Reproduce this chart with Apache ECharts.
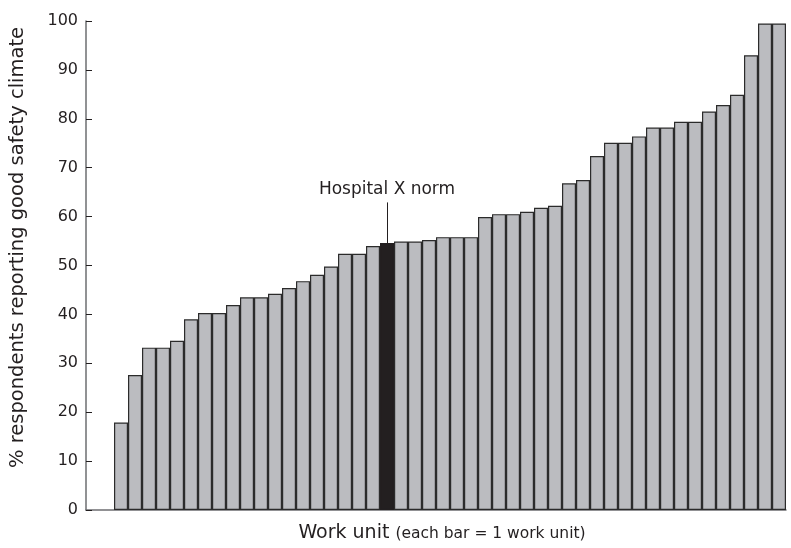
<!DOCTYPE html>
<html>
<head>
<meta charset="utf-8">
<script src="https://cdn.jsdelivr.net/npm/echarts@6/dist/echarts.min.js"></script>
<style>
  html, body { margin: 0; padding: 0; background: #ffffff; }
  #chart { width: 791px; height: 548px; }
</style>
</head>
<body>
<div id="chart"></div>
<script>
// Two empty leading slots reproduce the gap between the y axis and the first bar
var categories = ['', '',
  'U1','U2','U3','U4','U5','U6','U7','U8','U9','U10',
  'U11','U12','U13','U14','U15','U16','U17','U18','U19','U20',
  'U21','U22','U23','U24','U25','U26','U27','U28','U29','U30',
  'U31','U32','U33','U34','U35','U36','U37','U38','U39','U40',
  'U41','U42','U43','U44','U45','U46','U47','U48'];

var values = [17.9, 27.6, 33.2, 33.2, 34.6, 39.0, 40.3, 40.3, 41.9, 43.5,
              43.5, 44.2, 45.4, 46.8, 48.1, 49.8, 52.4, 52.4, 54.0, 54.6,
              54.9, 54.9, 55.2, 55.8, 55.8, 55.8, 59.9, 60.5, 60.5, 61.0,
              61.8, 62.2, 66.8, 67.5, 72.4, 75.1, 75.1, 76.4, 78.2, 78.2,
              79.4, 79.4, 81.5, 82.8, 84.9, 93.0, 99.5, 99.5];

var hospitalIndex = 19;          // index in values of the "Hospital X norm" bar
var hospitalLabel = 'Hospital X norm';
var leaderTop = 62.9;            // value where the annotation leader line ends

var yTicks = [0, 10, 20, 30, 40, 50, 60, 70, 80, 90, 100];

var FONT = '"DejaVu Sans", "Open Sans", sans-serif';
var TEXT = '#231f20';

var seriesData = ['-', '-'].concat(values.map(function (v, i) {
  if (i === hospitalIndex) {
    return { value: v, itemStyle: { color: '#231f20', borderColor: '#231f20' } };
  }
  return v;
}));

var hospCat = categories[2 + hospitalIndex];

var chart = echarts.init(document.getElementById('chart'), null, { renderer: 'canvas' });
chart.setOption({
  animation: false,
  backgroundColor: '#ffffff',
  grid: { left: 77, right: 5, top: 21, bottom: 31, containLabel: false },
  xAxis: {
    type: 'category',
    data: categories,
    boundaryGap: true,
    axisLine: { lineStyle: { color: '#6d6e71', width: 1.5 } },
    axisTick: { show: false },
    axisLabel: { show: false },
    splitLine: { show: false },
    name: '{a|Work unit }{b|(each bar = 1 work unit)}',
    nameLocation: 'middle',
    nameGap: 14,
    nameTextStyle: {
      padding: [0, 0, 0, 12],
      rich: {
        a: { fontFamily: FONT, fontSize: 19, color: TEXT },
        b: { fontFamily: FONT, fontSize: 15.5, color: TEXT }
      }
    }
  },
  yAxis: {
    type: 'value',
    min: yTicks[0],
    max: yTicks[yTicks.length - 1],
    interval: 10,
    axisLine: { show: true, lineStyle: { color: '#6d6e71', width: 1.5 } },
    axisTick: { show: true, inside: true, length: 6, lineStyle: { color: '#231f20' } },
    axisLabel: { fontFamily: FONT, fontSize: 16, color: TEXT, margin: 8 },
    splitLine: { show: false },
    name: '% respondents reporting good safety climate',
    nameLocation: 'middle',
    nameGap: 58,
    nameTextStyle: { fontFamily: FONT, fontSize: 19.5, color: TEXT, padding: [0, 0, 0, 36] }
  },
  series: [{
    type: 'bar',
    data: seriesData,
    barCategoryGap: '0%',
    itemStyle: { color: '#bbbcc0', borderColor: '#2b2b2b', borderWidth: 1.2 },
    markLine: {
      silent: true,
      symbol: ['none', 'none'],
      lineStyle: { color: '#231f20', width: 1, type: 'solid' },
      label: {
        show: true,
        position: 'end',
        distance: 4,
        formatter: hospitalLabel,
        fontFamily: FONT,
        fontSize: 17,
        color: TEXT
      },
      data: [[
        { coord: [hospCat, values[hospitalIndex]] },
        { coord: [hospCat, leaderTop] }
      ]]
    }
  }]
});
</script>
</body>
</html>
